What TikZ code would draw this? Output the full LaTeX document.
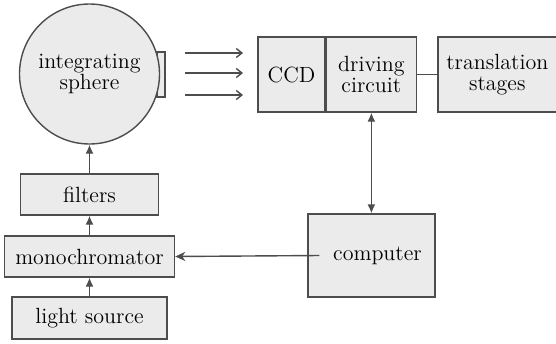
\documentclass[tikz,border=0pt]{standalone}
\usepackage{tikz}
\usetikzlibrary{arrows.meta,positioning}
\definecolor{linegray}{HTML}{4D4D4D}
\definecolor{boxgray}{HTML}{EBEBEB}

\begin{document}
\begin{tikzpicture}[x=0.5pt,y=-0.5pt,>={Latex[length=4.5pt,width=4pt]},
 box/.style={draw=linegray,fill=boxgray,line width=0.7pt,inner sep=0pt,align=center,
 font=\fontsize{11}{10.4}\selectfont},
 link/.style={draw=linegray,line width=0.7pt},
 beam/.style={link,-{Straight Barb[length=2.8pt,width=4.5pt]}}]
\useasboundingbox (0,0) rectangle (556,343);
% source side
\node[box,minimum width=4pt,minimum height=22.5pt] (port) at (161,74.5) {};
\node[box,circle,minimum size=70pt] (sphere) at (89.5,74) {integrating\\sphere};
\node[box,minimum width=69pt,minimum height=20.5pt] (filt) at (89.5,194.5) {filters};
\node[box,minimum width=85pt,minimum height=20.5pt] (mono) at (89.5,256.5) {monochromator};
\node[box,minimum width=77.5pt,minimum height=21pt] (lamp) at (89.5,318) {light source};
% detector side
\node[box,minimum width=33.5pt,minimum height=37.5pt] (ccd) at (291.5,74.5) {CCD};
\node[box,minimum width=45pt,minimum height=37.5pt,right=0pt of ccd] (drv) {driving\\circuit};
\node[box,minimum width=59.5pt,minimum height=37.5pt,right=10pt of drv] (trans) {translation\\stages};
\node[box,minimum width=63.5pt,minimum height=41.5pt] (comp) at (371.5,255.5) {\hspace*{6pt}computer};
% connectors
\foreach \y [count=\i] in {53,73,95} {
 \coordinate (b\i) at (185,\y);
 \coordinate (e\i) at (243,\y);
 \draw[beam] (b\i) -- (e\i);
}
\draw[link,->] (lamp.north) -- (mono.south);
\draw[link,->] (mono.north) -- (filt.south);
\draw[link,->] (filt.north) -- (sphere.south);
\draw[link] (drv) -- (trans);
\draw[link,<->] (drv.south) -- (drv.south |- comp.north);
\draw[link,-{Stealth[length=5pt,width=4.5pt,inset=1.5pt]}] ([xshift=6pt]comp.west) -- (mono.east);
\end{tikzpicture}
\end{document}
